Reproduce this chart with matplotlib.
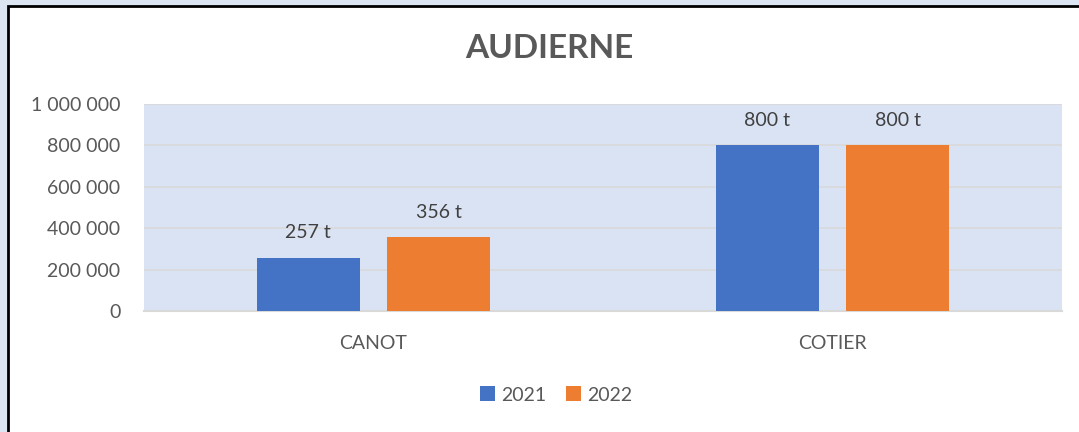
import matplotlib
matplotlib.use("Agg")
import matplotlib.pyplot as plt
from matplotlib.patches import Rectangle
from matplotlib.ticker import FuncFormatter
import numpy as np

categories = ["CANOT", "COTIER"]
series_names = ["2021", "2022"]
values_2021 = [257000, 800000]
values_2022 = [356000, 800000]
labels_2021 = ["257 t", "800 t"]
labels_2022 = ["356 t", "800 t"]
y_ticks = [0, 200000, 400000, 600000, 800000, 1000000]

plt.rcParams['font.family'] = ['Lato', 'DejaVu Sans']
grey = "#595959"
blue = "#4472c4"
orange = "#ed7d31"

fig = plt.figure(figsize=(10.79, 4.32), dpi=100)
fig.patch.set_facecolor("#dce6f2")
fig.patches.append(Rectangle((8/1079, -0.2), 1.2, 1 - 6/432 + 0.2, transform=fig.transFigure,
                             facecolor="white", edgecolor="black", linewidth=2, zorder=-10))

ax = fig.add_axes([144/1079, 1 - 311/432, (1062-144)/1079, (311-104)/432])
ax.set_zorder(5)
ax.set_facecolor("#dae3f3")
x = np.arange(len(categories))
w = 0.2244
off = 0.1427
b1 = ax.bar(x - off, values_2021, w, color=blue, label=series_names[0], zorder=3)
b2 = ax.bar(x + off, values_2022, w, color=orange, label=series_names[1], zorder=3)
for bars, labs in ((b1, labels_2021), (b2, labels_2022)):
    for r, t in zip(bars, labs):
        ax.annotate(t, (r.get_x() + r.get_width()/2, r.get_height()), xytext=(0, 18),
                    textcoords="offset points", ha="center", va="center", fontsize=14, color="#404040")

ax.set_xlim(-0.5, 1.5)
ax.set_ylim(0, 1000000)
ax.set_yticks(y_ticks)
ax.yaxis.set_major_formatter(FuncFormatter(lambda v, p: f"{int(v):,}".replace(",", " ")))
ax.set_xticks(x)
ax.set_xticklabels(categories)
ax.tick_params(axis="both", length=0, labelsize=14, labelcolor=grey)
ax.tick_params(axis="y", pad=17)
ax.tick_params(axis="x", pad=17)
ax.grid(axis="y", color="#d9d9d9", linewidth=1.2, zorder=0)
ax.set_axisbelow(True)
for s in ["top", "right", "left"]:
    ax.spines[s].set_visible(False)
ax.spines["bottom"].set_color("#d9d9d9")
ax.spines["bottom"].set_linewidth(1.5)

fig.text(549/1079, 1 - 49/432, "AUDIERNE", ha="center", va="center", fontsize=24,
         fontweight="bold", color=grey, zorder=6)

leg = fig.legend(handles=[b1, b2], labels=series_names, loc="center",
           bbox_to_anchor=(556/1079, 1 - 395/432), ncol=2, frameon=False, fontsize=14,
           handlelength=0.8, handleheight=0.8, handletextpad=0.3, columnspacing=1.0,
           labelcolor=grey)
leg.set_zorder(6)

fig.savefig("out.png", dpi=100, facecolor=fig.get_facecolor())
